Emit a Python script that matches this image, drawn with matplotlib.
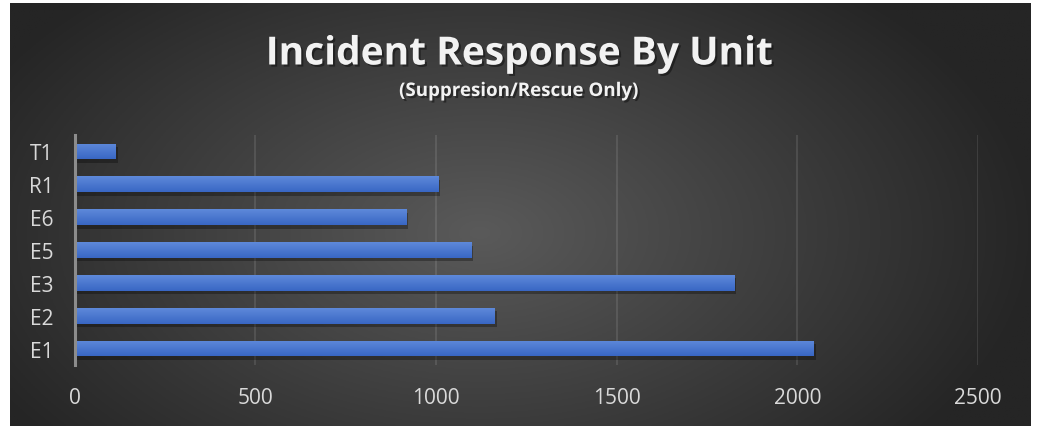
import matplotlib.pyplot as plt
import matplotlib.patheffects as pe
import numpy as np

# data (bottom to top, as drawn)
units = ['E1', 'E2', 'E3', 'E5', 'E6', 'R1', 'T1']
responses = [2043, 1162, 1824, 1096, 916, 1005, 112]
xticks = [0, 500, 1000, 1500, 2000, 2500]

plt.rcParams['font.family'] = ['Open Sans', 'DejaVu Sans']

fig = plt.figure(figsize=(10.38, 4.27), dpi=100)
fig.patch.set_facecolor('white')

# dark background with radial gradient
bg = fig.add_axes([10 / 1038, 0, 1021 / 1038, 423 / 427])
bg.set_axis_off()
gx, gy = np.meshgrid(np.linspace(0, 1021, 400), np.linspace(0, 423, 200))
d = np.sqrt(((gx - 470) / 560) ** 2 + ((gy - 230) / 330) ** 2)
d = np.clip(d, 0, 1)
shade = 0x5a / 255 * (1 - d) + 0x25 / 255 * d
img = np.dstack([shade, shade, shade])
bg.imshow(img, aspect='auto', extent=[0, 1, 0, 1], origin='upper')
bg.set_xlim(0, 1)
bg.set_ylim(0, 1)

ax = fig.add_axes([74.5 / 1038, 1 - 366 / 427, (978 - 74.5) / 1038, 230 / 427])
ax.patch.set_alpha(0)

ypos = np.arange(len(units))
bars = ax.barh(ypos, responses, height=0.48, color='#4a77d0', zorder=3,
               path_effects=[pe.SimplePatchShadow(offset=(2, -2.5), alpha=0.3, shadow_rgbFace='black'),
                             pe.Normal()])

# vertical gradient on each bar
grad = np.linspace(0, 1, 50).reshape(-1, 1)
top = np.array([0x5e, 0x89, 0xda]) / 255
bot = np.array([0x39, 0x67, 0xc4]) / 255
gimg = top * (1 - grad[..., None]) + bot * grad[..., None]
for b in bars:
    im = ax.imshow(gimg, aspect='auto', origin='upper', zorder=4,
                   extent=[b.get_x(), b.get_x() + b.get_width(), b.get_y(), b.get_y() + b.get_height()])
    im.set_clip_path(b)

ax.set_xlim(0, 2500)
ax.set_ylim(-0.5, len(units) - 0.5)
ax.set_xticks(xticks)
ax.set_xticklabels([str(t) for t in xticks])
ax.set_yticks(ypos)
ax.set_yticklabels(units)
ax.grid(axis='x', color='white', alpha=0.12, linewidth=1.2, zorder=1)
for s in ['top', 'right', 'bottom']:
    ax.spines[s].set_visible(False)
ax.spines['left'].set_color('#8c8c8c')
ax.spines['left'].set_linewidth(2.2)
ax.spines['left'].set_zorder(5)
ax.tick_params(axis='both', length=0, colors='#d9d9d9', labelsize=15)
ax.tick_params(axis='x', pad=16)
ax.tick_params(axis='y', pad=15)

shadow = [pe.withSimplePatchShadow(offset=(1.5, -1.5), alpha=0.4, shadow_rgbFace='black')]
fig.text(0.5, 1 - 55 / 427, 'Incident Response By Unit', ha='center', va='center',
         color='#f2f2f2', fontsize=28, fontweight='bold', path_effects=shadow)
fig.text(0.5, 1 - 92 / 427, '(Suppresion/Rescue Only)', ha='center', va='center',
         color='#f2f2f2', fontsize=13.5, fontweight='bold', path_effects=shadow)

fig.savefig('out.png', dpi=100, facecolor=fig.get_facecolor())
